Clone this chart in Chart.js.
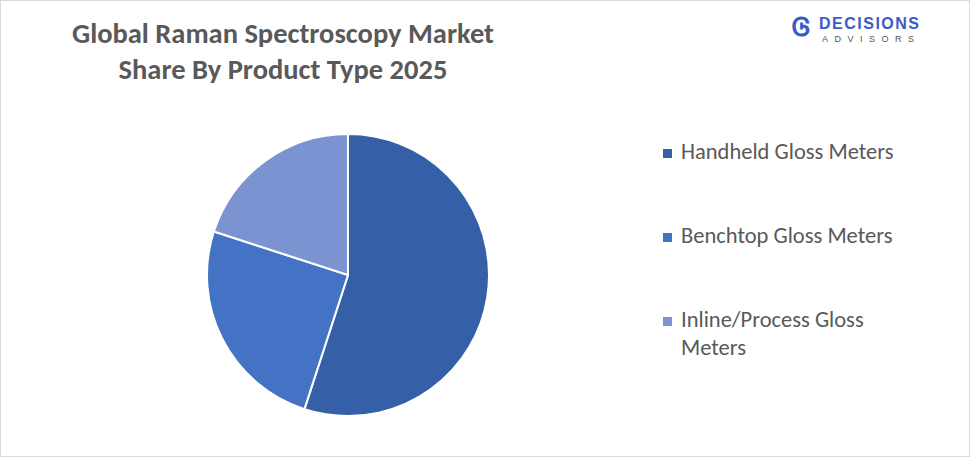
<!DOCTYPE html>
<html><head><meta charset="utf-8">
<script src="https://cdn.jsdelivr.net/npm/chart.js@4"></script>
<style>
body{margin:0;width:970px;height:457px;background:#fff;font-family:Calibri,Carlito,Lato,sans-serif;overflow:hidden}
#frame{position:absolute;left:0;top:0;width:968px;height:455px;border:1px solid #d9d9d9}
#title{position:absolute;left:20px;width:526px;top:16px;text-align:center;font-weight:bold;font-size:28.5px;line-height:36px;color:#595959}
#box{position:absolute;left:206px;top:133px;width:284px;height:284px}
#legend{position:absolute;left:663px;top:138px;font-size:22.5px;color:#595959;line-height:28px}
.li{position:absolute;padding-left:18px;width:215px}
.sw{position:absolute;left:0;top:11px;width:9px;height:9px}
#logo{position:absolute;left:792px;top:14px;color:#3a5bc7;font-family:"Liberation Sans",sans-serif}
</style></head><body>
<div id="frame"></div>
<div id="title">Global Raman Spectroscopy Market<br>Share By Product Type 2025</div>
<div id="box"><canvas id="c"></canvas></div>
<div id="legend"></div>
<div id="logo"><span style="font-size:26px;font-weight:bold;position:absolute;left:0;top:-2px">Ꮆ</span><span style="position:absolute;left:27px;top:1px;font-weight:bold;font-size:16px;letter-spacing:1.5px;white-space:nowrap">DECISIONS</span><span style="position:absolute;left:30px;top:20px;font-size:9px;letter-spacing:6.5px;color:#555;white-space:nowrap">ADVISORS</span></div>
<script>
const categories=["Handheld Gloss Meters","Benchtop Gloss Meters","Inline/Process Gloss Meters"];
const shares=[55,25,20];
const colors=["#355FA6","#4472C4","#7B93D1"];
const lg=document.getElementById('legend');
const tops=[0,84,168];
categories.forEach((c,i)=>{const d=document.createElement('div');d.className='li';d.style.top=tops[i]+'px';
d.innerHTML='<span class="sw" style="background:'+colors[i]+'"></span>'+c;lg.appendChild(d);});
new Chart(document.getElementById('c'),{type:'pie',data:{labels:categories,datasets:[{data:shares,backgroundColor:colors,borderColor:'#fff',borderWidth:2}]},
options:{responsive:true,maintainAspectRatio:false,animation:false,layout:{padding:0},plugins:{legend:{display:false},tooltip:{enabled:false}}}});
</script></body></html>
